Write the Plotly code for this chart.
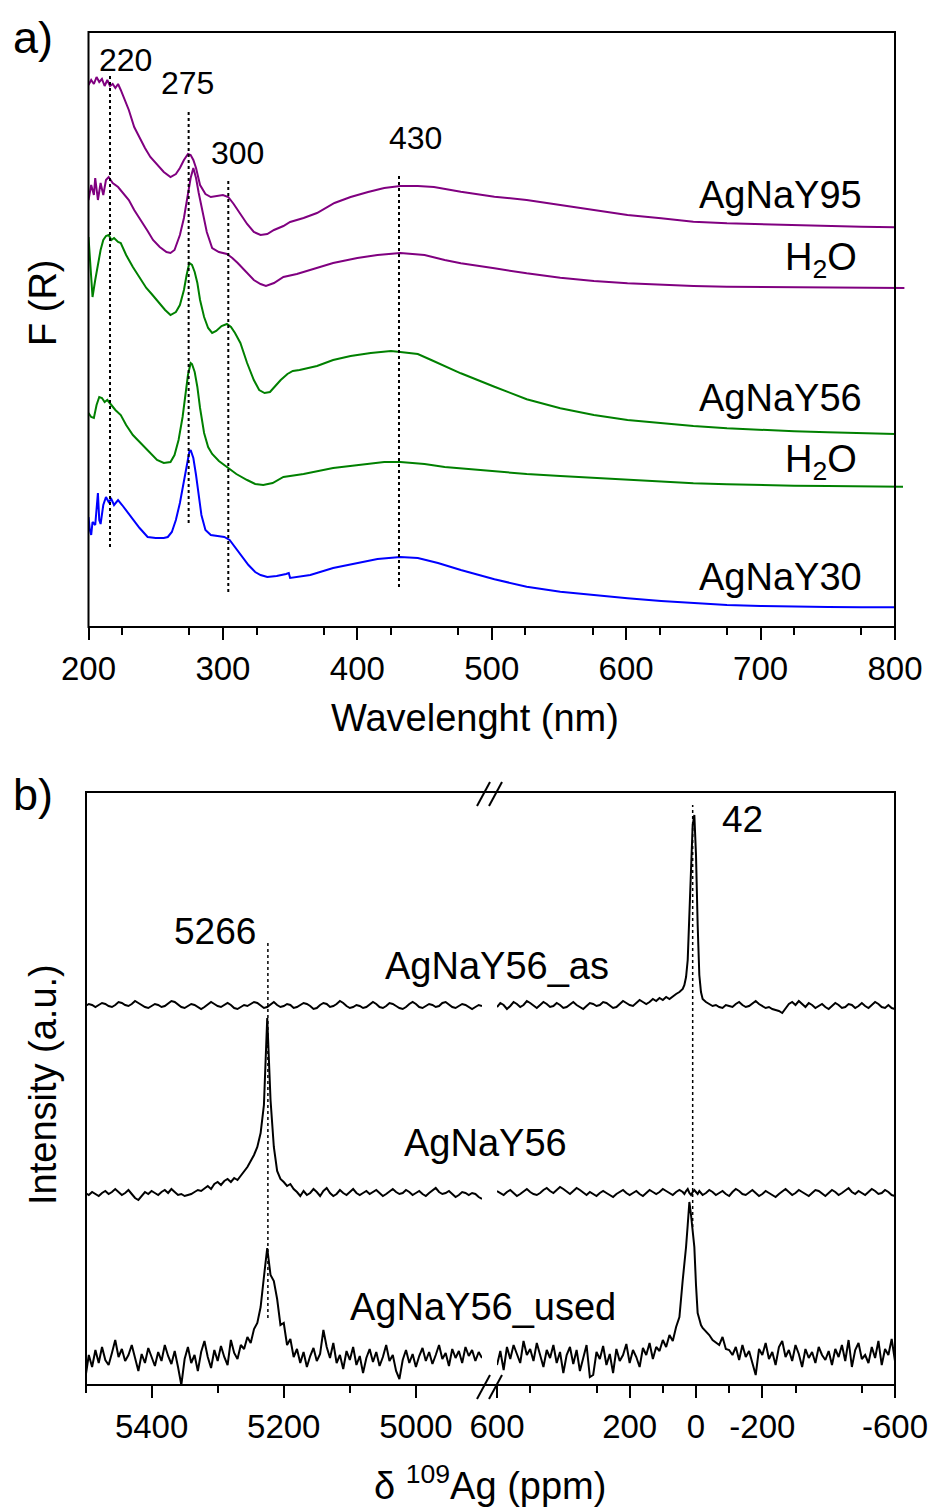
import plotly.graph_objects as go

W, H = 937, 1508
FONT = "Liberation Sans, Arial, sans-serif"


def px(x):
    return x / W


def py(y):
    return 1 - y / H


# ---------------- panel a : DRS spectra, F(R) in arbitrary units ----------------
agnay95 = [(200, 542), (202, 547), (204, 543), (206, 550), (208, 545), (210, 548), (212, 541), (214, 547),
           (216, 541), (218, 543), (220, 539), (222, 543), (224, 537), (227, 527), (230, 517), (234, 500),
           (238, 489), (242, 479), (246, 470), (251, 462), (256, 455), (261, 450), (265, 453), (268, 459),
           (271, 467), (274, 473), (276, 472), (278, 467), (280, 459), (283, 442), (287, 433), (291, 430),
           (295, 431), (300, 432), (304, 430), (308, 423), (313, 413), (318, 403), (323, 395), (328, 392),
           (333, 393), (338, 397), (345, 401), (350, 405), (360, 409), (370, 414), (383, 424), (395, 430),
           (408, 435), (420, 439), (432, 441), (445, 441), (457, 440), (470, 437), (477, 435.3), (502, 430.3),
           (526, 427), (551, 422), (576, 417), (601, 412), (626, 408.7), (650, 405.3), (675, 403.7),
           (700, 402.7), (725, 401.7), (750, 401), (775, 400.3), (800, 399.7)]

h2o_95 = [(200, 427), (202, 442), (204, 432), (205, 449), (207, 427), (209, 444), (211, 432), (213, 447),
          (215, 450), (218, 444), (222, 440), (226, 434), (230, 427), (234, 417), (239, 407), (244, 396),
          (248, 387), (253, 380), (258, 375), (261, 374), (264, 377), (268, 392), (271, 409), (274, 431),
          (276, 449), (278, 459), (280, 449), (282, 434), (285, 415), (288, 395), (292, 379), (297, 375),
          (303, 373), (307, 369), (311, 364), (317, 355), (323, 347), (328, 343), (332, 341), (338, 344),
          (345, 350), (355, 353), (370, 359), (382, 364), (400, 369), (415, 372), (432, 374), (450, 372),
          (465, 367), (477, 363.7), (502, 358.7), (526, 353.7), (551, 349.3), (576, 346), (601, 343.7),
          (626, 342), (650, 341), (675, 340.3), (700, 340), (725, 339.7), (750, 339.7), (775, 339.3),
          (800, 339.3), (807, 339)]

agnay56 = [(200, 390), (201, 367), (203, 330), (205, 347), (207, 362), (209, 377), (211, 387), (213, 391),
           (215, 392), (217, 387), (219, 389), (222, 385), (224, 384), (228, 372), (233, 360), (238, 349),
           (243, 339), (247, 333), (252, 325), (257, 317), (261, 312), (265, 315), (268, 322), (271, 337),
           (273, 352), (275, 364), (277, 362), (279, 355), (281, 344), (283, 327), (286, 310), (289, 299),
           (292, 294), (295, 296), (299, 301), (303, 303), (306, 300), (309, 294), (313, 284), (318, 264),
           (323, 247), (327, 237), (331, 234), (335, 235), (339, 241), (343, 247), (348, 253), (352, 256),
           (357, 257), (370, 261), (382, 267), (395, 271), (410, 274), (425, 276), (432, 275), (445, 273),
           (455, 267), (465, 261), (477, 253.7), (502, 240.3), (526, 227.7), (551, 218.7), (576, 212),
           (601, 207), (626, 203.7), (650, 201), (675, 198.7), (700, 197), (725, 195.7), (750, 194.7),
           (775, 193.7), (800, 193)]

h2o_56 = [(200, 214), (202, 210), (204, 209), (206, 222), (208, 230), (210, 229), (212, 225), (214, 227),
          (217, 222), (220, 217), (224, 212), (228, 202), (233, 192), (239, 184), (245, 175), (251, 167),
          (256, 164), (261, 165), (264, 172), (267, 187), (270, 210), (272, 232), (274, 252), (276, 264),
          (277, 263), (279, 255), (281, 240), (283, 219), (286, 194), (289, 180), (292, 173), (297, 166),
          (303, 160), (310, 153), (318, 147), (324, 143), (330, 142), (337, 144), (345, 150), (360, 153),
          (382, 159), (400, 162), (420, 165), (432, 165), (450, 163), (465, 160), (477, 158.7), (502, 155.3),
          (526, 153), (551, 151), (576, 149), (601, 147), (626, 145.3), (650, 143.7), (675, 142.7),
          (700, 141.7), (725, 141.3), (750, 141), (775, 140.7), (800, 140.3), (806, 140.3)]

agnay30 = [(200, 110), (201, 97), (202, 92), (203, 105), (205, 102), (206, 117), (207, 134), (208, 107),
           (209, 103), (211, 122), (213, 130), (215, 125), (217, 128), (219, 122), (222, 127), (225, 122),
           (229, 115), (233, 107), (238, 99), (244, 90), (250, 89), (256, 89), (259, 90), (262, 95),
           (265, 107), (268, 124), (271, 145), (273, 162), (275, 175), (276, 177), (278, 169), (280, 152),
           (282, 130), (284, 112), (287, 97), (291, 92), (296, 91), (301, 90), (305, 87), (309, 80),
           (314, 71), (319, 62), (324, 55), (328, 52), (333, 50), (340, 51), (347, 53), (349, 54),
           (350, 49), (355, 50), (365, 52), (382, 59), (400, 64), (415, 68), (432, 70), (445, 69),
           (460, 64), (477, 57), (502, 47.7), (526, 40.3), (551, 35.3), (576, 31.7), (601, 28.7),
           (626, 26), (650, 23.7), (675, 22), (700, 21), (725, 20.3), (750, 20), (775, 19.7), (800, 19.7)]

series_a = [("AgNaY95", agnay95, "#800080"),
            ("H2O (AgNaY95)", h2o_95, "#800080"),
            ("AgNaY56", agnay56, "#008000"),
            ("H2O (AgNaY56)", h2o_56, "#008000"),
            ("AgNaY30", agnay30, "#0000ff")]

wl_labeled = [200, 300, 400, 500, 600, 700, 800]
wl_unlabeled = [250, 350, 450, 550, 650, 750]
wl_minor = [225, 275, 325, 375, 425, 475, 525, 575, 625, 675, 725, 775]

peak_pos_a = [216, 274.5, 304, 431]
peak_txt_a = ["220", "275", "300", "430"]

# ---------------- panel b : 109Ag NMR, intensity in arbitrary units ----------------
ppm_left = list(range(5500, 4899, -5))
ppm_right = list(range(600, 49, -10)) + list(range(40, -21, -5)) + list(range(-30, -601, -10))

as_left = [379, 381, 380, 378, 380, 382, 381, 379, 378, 380,
           383, 382, 380, 379, 381, 384, 382, 380, 378, 377,
           379, 381, 380, 378, 379, 382, 384, 383, 380, 378,
           377, 379, 381, 380, 378, 376, 378, 381, 383, 381,
           379, 378, 380, 382, 380, 377, 376, 378, 380, 379,
           381, 383, 382, 379, 377, 378, 381, 383, 380, 378,
           379, 381, 380, 377, 378, 380, 382, 381, 379, 376,
           377, 380, 382, 381, 378, 379, 381, 384, 382, 379,
           377, 378, 380, 379, 377, 378, 381, 383, 381, 378,
           377, 379, 382, 381, 379, 377, 376, 378, 381, 383,
           381, 378, 377, 379, 381, 380, 378, 379, 382, 383,
           380, 378, 377, 379, 381, 380, 378, 376, 378, 380,
           379]
as_right = [378, 382, 380, 376, 379, 383, 381, 378, 380, 384,
            382, 379, 377, 380, 383, 381, 378, 379, 382, 380,
            377, 378, 381, 383, 380, 378, 376, 379, 382, 381,
            379, 380, 383, 382, 379, 377, 378, 381, 384, 382,
            380, 379, 382, 385, 383, 381, 383, 386, 384, 387,
            385, 388, 386, 389, 391, 393,
            396, 400, 408, 425, 470, 530, 560, 570, 530, 460, 410, 393, 386,
            383, 381, 379, 380, 378, 377, 380, 379, 378, 381,
            383, 380, 378, 379, 382, 384, 381, 379, 377, 378,
            376, 375, 374, 372, 376, 381, 383, 380, 384, 381,
            378, 382, 380, 377, 379, 381, 378, 376, 379, 382,
            380, 377, 378, 381, 380, 377, 379, 382, 379, 377,
            380, 383, 381, 378, 377, 380, 377, 376]

mid_left = [192, 190, 193, 191, 189, 192, 194, 191, 193, 196,
            193, 190, 192, 195, 191, 187, 185, 189, 193, 191,
            194, 192, 190, 193, 195, 192, 196, 193, 190, 191,
            189, 190, 191, 193, 195, 194, 197, 199, 196, 201,
            203, 200, 204, 206, 203, 207, 205, 209, 214, 218,
            224, 230, 238, 252, 280, 367, 285, 238, 214, 206,
            203, 199, 201, 196, 193, 189, 194, 190, 192, 196,
            193, 189, 194, 197, 192, 189, 191, 195, 192, 190,
            193, 196, 192, 190, 192, 194, 191, 193, 195, 192,
            189, 191, 194, 196, 193, 191, 192, 195, 193, 190,
            192, 194, 191, 189, 192, 195, 197, 193, 191, 192,
            194, 191, 188, 190, 193, 192, 190, 192, 191, 188,
            186]
mid_right = [194, 192, 190, 193, 195, 192, 189, 191, 194, 196,
             193, 191, 190, 192, 195, 197, 194, 192, 195, 198,
             196, 193, 191, 194, 197, 195, 192, 190, 193, 191,
             189, 192, 194, 192, 190, 188, 191, 193, 195, 192,
             190, 192, 194, 191, 189, 192, 195, 193, 191, 193,
             196, 194, 192, 190, 193, 195,
             193, 191, 194, 196, 192, 190, 193, 195, 193, 191, 194, 192, 190,
             192, 195, 193, 190, 192, 194, 191, 189, 193, 196,
             194, 191, 190, 193, 195, 192, 189, 191, 194, 192,
             190, 188, 191, 194, 196, 193, 190, 192, 195, 193,
             191, 189, 192, 195, 194, 191, 189, 192, 195, 193,
             190, 192, 195, 197, 193, 191, 194, 192, 190, 193,
             196, 194, 191, 192, 195, 193, 190, 189]

used_left = [8, 30, 18, 35, 22, 38, 25, 20, 32, 45,
             28, 36, 24, 30, 40, 26, 14, 31, 22, 37,
             27, 19, 33, 24, 40, 29, 21, 34, 18, 0,
             26, 38, 22, 30, 14, 33, 44, 28, 17, 35,
             24, 39, 28, 20, 45, 32, 26, 40, 36, 48,
             42, 56, 62, 78, 108, 137, 110, 104, 86, 60,
             62, 40, 46, 28, 36, 22, 33, 18, 29, 37,
             24, 31, 55, 38, 27, 42, 22, 30, 16, 34,
             25, 38, 20, 29, 12, 27, 36, 23, 33, 19,
             28, 40, 24, 30, 14, 6, 25, 35, 22, 31,
             18, 29, 37, 24, 33, 21, 30, 40, 26, 32,
             19, 36, 27, 34, 22, 38, 29, 35, 24, 33,
             27]
used_right = [20, 34, 15, 38, 26, 40, 31, 22, 44, 30,
              36, 24, 42, 29, 18, 35, 27, 40, 22, 33,
              12, 30, 38, 21, 35, 14, 28, 40, 8, 10,
              33, 26, 39, 20, 31, 12, 36, 24, 30, 41,
              22, 35, 28, 18, 37, 30, 42, 26, 38, 34,
              45, 38, 50, 44, 58, 68,
              105, 120, 138, 160, 183, 170, 150, 138, 100, 72, 66, 60, 57,
              54, 50, 45, 42, 40, 48, 36, 35, 30, 38,
              25, 40, 28, 34, 22, 10, 36, 30, 42, 26,
              33, 20, 38, 44, 28, 35, 24, 40, 31, 18,
              36, 27, 33, 22, 38, 30, 25, 34, 20, 36,
              28, 40, 24, 45, 18, 35, 42, 26, 30, 22,
              38, 27, 44, 20, 36, 30, 46, 24]

spectra_b = [("AgNaY56_as", as_left, as_right),
             ("AgNaY56", mid_left, mid_right),
             ("AgNaY56_used", used_left, used_right)]

left_ticks = [5400, 5200, 5000]
left_minor = [5500, 5300, 5100]
right_labeled = [600, 200, 0, -200, -600]
right_unlabeled = [400, -400]
right_minor = [500, 300, 100, -100, -300, -500]

peak_pos_b_left = 5224
peak_pos_b_right = 10

# ---------------- figure ----------------
fig = go.Figure()

for name, pts, col in series_a:
    fig.add_trace(go.Scatter(x=[p[0] for p in pts], y=[p[1] for p in pts], mode="lines",
                             line=dict(color=col, width=2), name=name, xaxis="x", yaxis="y"))

for name, yl, yr in spectra_b:
    fig.add_trace(go.Scatter(x=ppm_left, y=yl, mode="lines", line=dict(color="black", width=2),
                             name=name, xaxis="x2", yaxis="y2"))
    fig.add_trace(go.Scatter(x=ppm_right, y=yr, mode="lines", line=dict(color="black", width=2),
                             name=name, xaxis="x3", yaxis="y2"))

tickfont = dict(family=FONT, size=33, color="black")
common_x = dict(showgrid=False, zeroline=False, showline=False, ticks="outside", ticklen=12,
                tickwidth=2, tickcolor="black", tickfont=tickfont, tickmode="array",
                automargin=False)


def minor(vals):
    return dict(tickmode="array", tickvals=vals, ticks="outside", ticklen=7,
                tickwidth=2, tickcolor="black", showgrid=False)


range_a = [200, 808.2]
range_r = [600, -600]

fig.update_layout(
    template="none",
    width=W, height=H, margin=dict(l=0, r=0, t=0, b=0, pad=0, autoexpand=False),
    paper_bgcolor="white", plot_bgcolor="white", showlegend=False,
    xaxis=dict(domain=[px(88.5), px(906)], range=range_a, anchor="y",
               tickvals=wl_labeled, ticktext=[str(v) for v in wl_labeled],
               minor=minor(wl_minor), **common_x),
    xaxis4=dict(overlaying="x", range=range_a, anchor="y", tickvals=wl_unlabeled,
                showticklabels=False, **common_x),
    yaxis=dict(domain=[py(627), py(32)], range=[0, 595], anchor="x", visible=False, automargin=False),
    xaxis2=dict(domain=[px(85.5), px(482)], range=[5500, 4900], anchor="y2",
                tickvals=left_ticks, ticktext=[str(v) for v in left_ticks],
                minor=minor(left_minor), **common_x),
    xaxis3=dict(domain=[px(497), px(895)], range=range_r, anchor="y2",
                tickvals=right_labeled, ticktext=[str(v) for v in right_labeled],
                minor=minor(right_minor), **common_x),
    xaxis5=dict(overlaying="x3", range=range_r, anchor="y2", tickvals=right_unlabeled,
                showticklabels=False, **common_x),
    yaxis2=dict(domain=[py(1385), py(792)], range=[0, 593], anchor="x2", visible=False, automargin=False),
)

shapes = []
blk = dict(color="black", width=2)
# panel a frame
shapes.append(dict(type="rect", xref="paper", yref="paper", x0=px(88.5), x1=px(895), y0=py(627), y1=py(32),
                   line=blk, layer="above"))
# panel b frame
shapes.append(dict(type="rect", xref="paper", yref="paper", x0=px(86), x1=px(895), y0=py(1385), y1=py(792),
                   line=blk, layer="above"))
# axis break marks
for yb in (794, 1387):
    for xb in (477, 489):
        shapes.append(dict(type="line", xref="paper", yref="paper", x0=px(xb), y0=py(yb + 12),
                           x1=px(xb + 13), y1=py(yb - 12), line=blk))
# dotted marker lines, panel a
for xv, (y0, y1) in zip(peak_pos_a, [(80, 552), (104, 517), (35, 449), (40, 454)]):
    shapes.append(dict(type="line", xref="x", yref="y", x0=xv, x1=xv, y0=y0, y1=y1,
                       line=dict(color="black", width=2, dash="dot")))
# dotted marker lines, panel b
shapes.append(dict(type="line", xref="x2", yref="y2", x0=peak_pos_b_left, x1=peak_pos_b_left, y0=67, y1=445,
                   line=dict(color="black", width=1.5, dash="dot")))
shapes.append(dict(type="line", xref="x3", yref="y2", x0=peak_pos_b_right, x1=peak_pos_b_right, y0=158, y1=580,
                   line=dict(color="black", width=1.5, dash="dot")))
fig.update_layout(shapes=shapes)

ann = []


def text(x, y, s, size, xref="paper", yref="paper", xanchor="center", angle=0):
    ann.append(dict(x=x, y=y, xref=xref, yref=yref, text=s, showarrow=False, xanchor=xanchor,
                    yanchor="middle", textangle=angle, font=dict(family=FONT, size=size, color="black")))


# panel a labels
for (xv, yv), s in zip([(227.2, 567), (273.3, 544), (310.5, 474), (443, 489)], peak_txt_a):
    text(xv, yv, s, 32, "x", "y")
text(777, 432, "AgNaY95", 38, "x", "y", "right")
text(773.2, 367, "H<sub>2</sub>O", 38, "x", "y", "right")
text(777, 229, "AgNaY56", 38, "x", "y", "right")
text(773.2, 165, "H<sub>2</sub>O", 38, "x", "y", "right")
text(777, 50, "AgNaY30", 38, "x", "y", "right")
text(px(33), py(38), "a)", 45)
text(px(43), py(303), "F (R)", 38, angle=-90)
text(px(475), py(718), "Wavelenght (nm)", 38)

# panel b labels
text(5304, 453, "5266", 37, "x2", "y2")
text(-140, 565, "42", 37, "x3", "y2")
text(px(497), 419, "AgNaY56_as", 38, "paper", "y2")
text(px(485), 242, "AgNaY56", 38, "paper", "y2")
text(px(483), 78, "AgNaY56_used", 38, "paper", "y2")
text(px(33), py(794), "b)", 45)
text(px(43), py(1085), "Intensity (a.u.)", 38, angle=-90)
text(px(490), py(1483), "δ <sup>109</sup>Ag (ppm)", 38)

fig.update_layout(annotations=ann)
fig.write_html("out.html")
